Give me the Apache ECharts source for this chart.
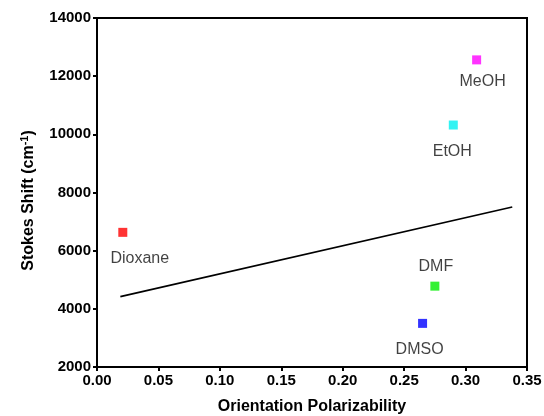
<!DOCTYPE html>
<html>
<head>
<meta charset="utf-8">
<script src="https://cdn.jsdelivr.net/npm/echarts@6/dist/echarts.min.js"></script>
<style>
  html, body { margin: 0; padding: 0; background: #fff; }
  #chart { width: 544px; height: 416px; }
</style>
</head>
<body>
<div id="chart"></div>
<script>
// solvents and their measured points
const solvents = ['Dioxane', 'DMSO', 'DMF', 'EtOH', 'MeOH'];
const polarizability = [0.021, 0.265, 0.275, 0.290, 0.309];
const stokesShift = [6630, 3500, 4780, 10320, 12560];

// linear fit drawn as a straight line
const fitX = [0.019, 0.338];
const fitY = [4420, 7500];

const xTicks = [0, 0.05, 0.10, 0.15, 0.20, 0.25, 0.30, 0.35];
const yTicks = [2000, 4000, 6000, 8000, 10000, 12000, 14000];

// marker colours and label offsets per solvent
const markerColors = ['#ff0000', '#0000ff', '#00ee00', '#00f0f0', '#ff00ff'];
const labelOffsets = [[17, 26], [-3, 26], [1, -20], [-1, 27], [6, 22]];

const chart = echarts.init(document.getElementById('chart'));
const font = 'Arial, "Liberation Sans", sans-serif';

const option = {
  backgroundColor: '#fff',
  animation: false,
  grid: {
    left: 97, right: 17, top: 18, bottom: 49,
    outerBoundsMode: 'none',
    containLabel: false,
    show: true, borderColor: '#000', borderWidth: 2
  },
  xAxis: {
    type: 'value',
    min: xTicks[0],
    max: xTicks[xTicks.length - 1],
    interval: 0.05,
    name: 'Orientation Polarizability',
    nameLocation: 'middle',
    nameGap: 32,
    nameTextStyle: { fontFamily: font, fontWeight: 'bold', fontSize: 16, color: '#000' },
    axisLine: { show: true, lineStyle: { color: '#000', width: 2 } },
    axisTick: { show: true, length: 4, lineStyle: { color: '#000', width: 2 } },
    axisLabel: {
      fontFamily: font, fontWeight: 'bold', fontSize: 15, color: '#000', margin: 6,
      formatter: v => v.toFixed(2)
    },
    splitLine: { show: false }
  },
  yAxis: {
    type: 'value',
    min: yTicks[0],
    max: yTicks[yTicks.length - 1],
    interval: 2000,
    name: '{a|Stokes Shift (cm}{s|-1}{a|)}',
    nameLocation: 'middle',
    nameGap: 58,
    nameTextStyle: {
      padding: [0, 16, 0, 0],
      rich: {
        a: { fontFamily: font, fontWeight: 'bold', fontSize: 16, color: '#000' },
        s: { fontFamily: font, fontWeight: 'bold', fontSize: 11, color: '#000', verticalAlign: 'top', padding: [0, 0, 9, 0] }
      }
    },
    axisLine: { show: true, lineStyle: { color: '#000', width: 2 } },
    axisTick: { show: true, length: 4, lineStyle: { color: '#000', width: 2 } },
    axisLabel: {
      fontFamily: font, fontWeight: 'bold', fontSize: 15, color: '#000', margin: 6,
      formatter: v => String(v)
    },
    splitLine: { show: false }
  },
  series: [
    {
      type: 'line',
      data: fitX.map((x, i) => [x, fitY[i]]),
      symbol: 'none',
      lineStyle: { color: '#000', width: 1.6 },
      z: 2
    },
    {
      type: 'scatter',
      symbol: 'rect',
      symbolSize: 9,
      data: solvents.map((name, i) => ({
        name: name,
        value: [polarizability[i], stokesShift[i]],
        itemStyle: { color: markerColors[i] },
        label: {
          show: true,
          position: 'inside',
          offset: labelOffsets[i],
          formatter: name,
          fontFamily: font,
          fontSize: 16,
          color: '#111'
        }
      })),
      z: 3
    }
  ]
};

chart.setOption(option);
</script>
</body>
</html>
